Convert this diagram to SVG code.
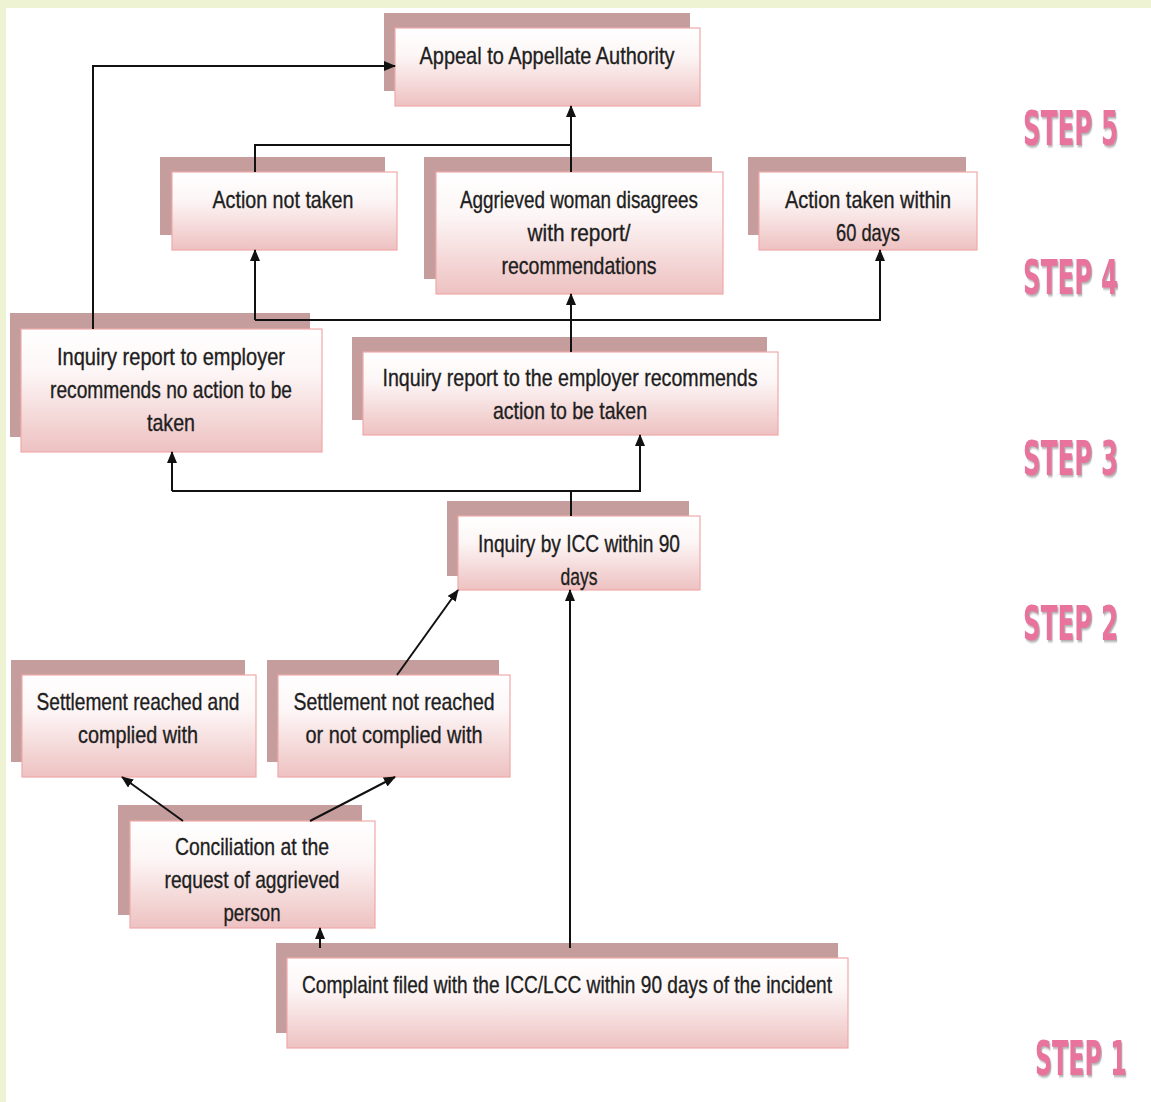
<svg xmlns="http://www.w3.org/2000/svg" width="1151" height="1102" viewBox="0 0 1151 1102">
<defs>
<linearGradient id="g" x1="0" y1="0" x2="0" y2="1">
<stop offset="0" stop-color="#ffffff"/>
<stop offset="0.35" stop-color="#fdf6f6"/>
<stop offset="1" stop-color="#eec1c1"/>
</linearGradient>
<marker id="ah" markerWidth="12" markerHeight="10" refX="11" refY="5" orient="auto" markerUnits="userSpaceOnUse">
<path d="M0,0 L12,5 L0,10 Z" fill="#111"/>
</marker>
<filter id="sh" x="-10%" y="-10%" width="130%" height="140%">
<feDropShadow dx="2" dy="2" stdDeviation="1.2" flood-color="#777" flood-opacity="0.6"/>
</filter>
</defs>
<style>
.back{fill:#c59d9d;}
.front{fill:url(#g);stroke:#f0a9a9;stroke-width:1.2;}
.t{font-family:"Liberation Sans",Arial,sans-serif;font-size:24px;fill:#1e1e1e;stroke:#1e1e1e;stroke-width:0.35;text-anchor:middle;}
.step{font-family:"DejaVu Sans Condensed","DejaVu Sans",sans-serif;font-weight:bold;font-size:48px;fill:#e8739c;filter:url(#sh);}
.c{fill:none;stroke:#111;stroke-width:2;}
.ca{fill:none;stroke:#111;stroke-width:2;marker-end:url(#ah);}
</style>
<rect x="0" y="0" width="1151" height="1102" fill="#edf3d3"/>
<rect x="6" y="8" width="1145" height="1094" fill="#ffffff"/>

<g id="appeal">
<rect class="back" x="384" y="13" width="306" height="78"/>
<rect class="front" x="395" y="28" width="305" height="78"/>
<text class="t" x="547" y="64" textLength="255" lengthAdjust="spacingAndGlyphs">Appeal to Appellate Authority</text>
</g>

<g id="action-not-taken">
<rect class="back" x="160" y="157" width="225" height="78"/>
<rect class="front" x="172" y="172" width="225" height="78"/>
<text class="t" x="283" y="208" textLength="141" lengthAdjust="spacingAndGlyphs">Action not taken</text>
</g>

<g id="aggrieved">
<rect class="back" x="424" y="157" width="288" height="122"/>
<rect class="front" x="436" y="172" width="287" height="122"/>
<text class="t" x="579" y="208" textLength="238" lengthAdjust="spacingAndGlyphs">Aggrieved woman disagrees</text>
<text class="t" x="579" y="241" textLength="103" lengthAdjust="spacingAndGlyphs">with report/</text>
<text class="t" x="579" y="274" textLength="155" lengthAdjust="spacingAndGlyphs">recommendations</text>
</g>

<g id="action-taken">
<rect class="back" x="748" y="157" width="218" height="78"/>
<rect class="front" x="759" y="172" width="218" height="78"/>
<text class="t" x="868" y="208" textLength="166" lengthAdjust="spacingAndGlyphs">Action taken within</text>
<text class="t" x="868" y="241" textLength="64" lengthAdjust="spacingAndGlyphs">60 days</text>
</g>

<g id="report-no-action">
<rect class="back" x="10" y="313" width="300" height="124"/>
<rect class="front" x="21" y="329" width="301" height="123"/>
<text class="t" x="171" y="365" textLength="228" lengthAdjust="spacingAndGlyphs">Inquiry report to employer</text>
<text class="t" x="171" y="398" textLength="242" lengthAdjust="spacingAndGlyphs">recommends no action to be</text>
<text class="t" x="171" y="431" textLength="48" lengthAdjust="spacingAndGlyphs">taken</text>
</g>

<g id="report-action">
<rect class="back" x="352" y="337" width="415" height="83"/>
<rect class="front" x="363" y="352" width="415" height="83"/>
<text class="t" x="570" y="386" textLength="375" lengthAdjust="spacingAndGlyphs">Inquiry report to the employer recommends</text>
<text class="t" x="570" y="419" textLength="154" lengthAdjust="spacingAndGlyphs">action to be taken</text>
</g>

<g id="inquiry-icc">
<rect class="back" x="447" y="501" width="242" height="75"/>
<rect class="front" x="458" y="516" width="242" height="74"/>
<text class="t" x="579" y="552" textLength="202" lengthAdjust="spacingAndGlyphs">Inquiry by ICC within 90</text>
<text class="t" x="579" y="585" textLength="37" lengthAdjust="spacingAndGlyphs">days</text>
</g>

<g id="settlement-reached">
<rect class="back" x="11" y="660" width="234" height="102"/>
<rect class="front" x="22" y="675" width="234" height="102"/>
<text class="t" x="138" y="710" textLength="203" lengthAdjust="spacingAndGlyphs">Settlement reached and</text>
<text class="t" x="138" y="743" textLength="120" lengthAdjust="spacingAndGlyphs">complied with</text>
</g>

<g id="settlement-not-reached">
<rect class="back" x="267" y="660" width="232" height="102"/>
<rect class="front" x="278" y="675" width="232" height="102"/>
<text class="t" x="394" y="710" textLength="201" lengthAdjust="spacingAndGlyphs">Settlement not reached</text>
<text class="t" x="394" y="743" textLength="177" lengthAdjust="spacingAndGlyphs">or not complied with</text>
</g>

<g id="conciliation">
<rect class="back" x="118" y="805" width="244" height="110"/>
<rect class="front" x="130" y="821" width="245" height="107"/>
<text class="t" x="252" y="855" textLength="154" lengthAdjust="spacingAndGlyphs">Conciliation at the</text>
<text class="t" x="252" y="888" textLength="175" lengthAdjust="spacingAndGlyphs">request of aggrieved</text>
<text class="t" x="252" y="921" textLength="57" lengthAdjust="spacingAndGlyphs">person</text>
</g>

<g id="complaint">
<rect class="back" x="276" y="943" width="562" height="90"/>
<rect class="front" x="287" y="958" width="561" height="90"/>
<text class="t" x="567" y="993" textLength="530" lengthAdjust="spacingAndGlyphs">Complaint filed with the ICC/LCC within 90 days of the incident</text>
</g>

<g id="connectors">
<path class="ca" d="M93,329 V66 H395"/>
<path class="c" d="M255,172 V145 H571"/>
<path class="ca" d="M571,172 V106"/>
<path class="ca" d="M571,352 V294"/>
<path class="ca" d="M255,320 H880 V250"/>
<path class="ca" d="M255,320 V250"/>
<path class="c" d="M571,516 V491"/>
<path class="ca" d="M172,491 V452"/>
<path class="ca" d="M172,491 H640 V435"/>
<path class="ca" d="M397,675 L458,590"/>
<path class="ca" d="M570,948 V590"/>
<path class="ca" d="M320,948 V928"/>
<path class="ca" d="M183,821 L122,777"/>
<path class="ca" d="M310,821 L395,777"/>
</g>

<g id="steps">
<text class="step" transform="translate(1023,145) scale(0.57,1)">STEP 5</text>
<text class="step" transform="translate(1023,294) scale(0.57,1)">STEP 4</text>
<text class="step" transform="translate(1023,475) scale(0.57,1)">STEP 3</text>
<text class="step" transform="translate(1023,640) scale(0.57,1)">STEP 2</text>
<text class="step" transform="translate(1035,1075) scale(0.55,1)">STEP 1</text>
</g>
</svg>
